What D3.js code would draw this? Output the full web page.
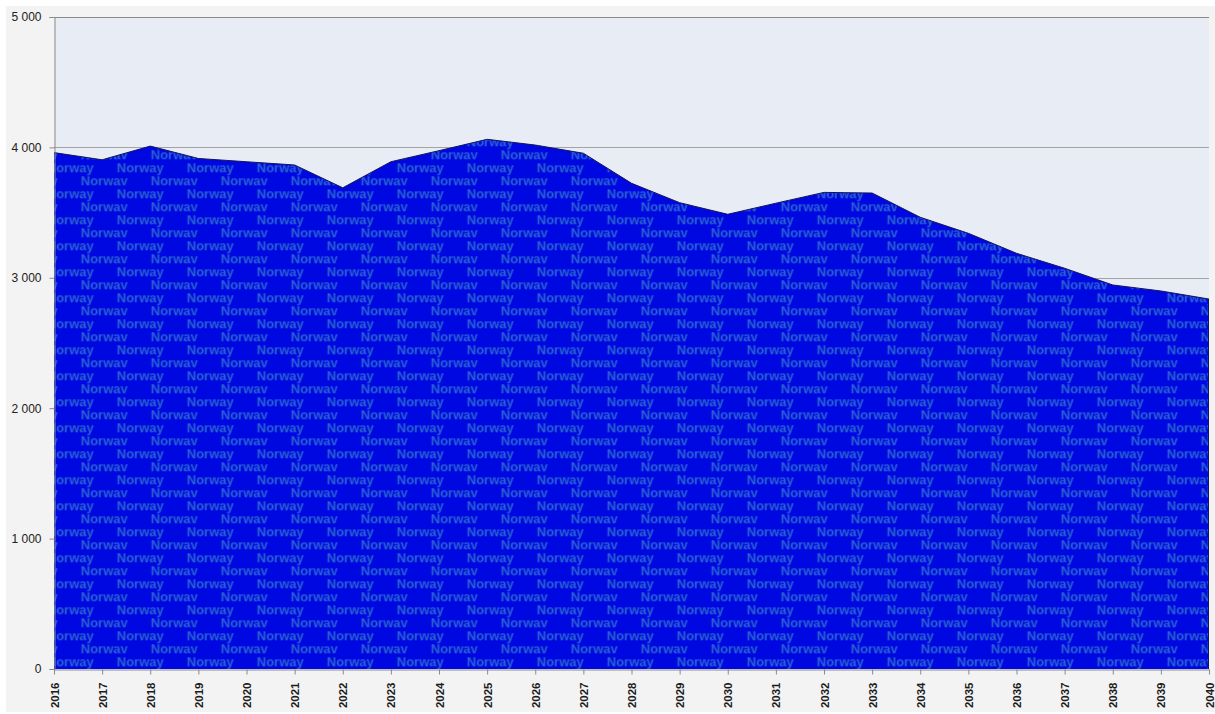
<!DOCTYPE html>
<html>
<head>
<meta charset="utf-8">
<script src="https://cdn.jsdelivr.net/npm/d3@7"></script>
<style>
  html, body { margin: 0; padding: 0; background: #ffffff; }
  svg { display: block; }
</style>
</head>
<body>
<svg id="chart" width="1215" height="714"></svg>
<script>
// Yearly series for Norway, 2016–2040
const years = [2016, 2017, 2018, 2019, 2020, 2021, 2022, 2023, 2024, 2025, 2026, 2027, 2028,
               2029, 2030, 2031, 2032, 2033, 2034, 2035, 2036, 2037, 2038, 2039, 2040];
const values = [3960, 3905, 4010, 3915, 3890, 3865, 3690, 3890, 3975, 4062, 4018, 3955, 3725,
                3576, 3487, 3572, 3655, 3650, 3464, 3341, 3188, 3073, 2945, 2899, 2837];
const seriesName = "Norway";
const yTicks = [0, 1000, 2000, 3000, 4000, 5000];
const yMax = 5000;

const data = years.map((y, i) => ({ year: y, value: values[i] }));

const svg = d3.select("#chart");
const plot = { left: 54, right: 1209, top: 17, bottom: 669 };

const x = d3.scaleLinear().domain([years[0], years[years.length - 1]]).range([plot.left, plot.right]);
const y = d3.scaleLinear().domain([0, yMax]).range([plot.bottom, plot.top]);

const fmt = d3.formatLocale({ decimal: ",", thousands: " ", grouping: [3], currency: ["", ""] }).format(",d");

// outer panel and plot background
svg.append("rect").attr("x", 6).attr("y", 6).attr("width", 1209).attr("height", 706).attr("fill", "#f3f3f3");
svg.append("rect")
  .attr("x", plot.left).attr("y", plot.top)
  .attr("width", plot.right - plot.left).attr("height", plot.bottom - plot.top)
  .attr("fill", "#e8ecf4");

// repeating series-name texture for the area fill
const defs = svg.append("defs");
const pat = defs.append("pattern")
  .attr("id", "namePattern")
  .attr("patternUnits", "userSpaceOnUse")
  .attr("x", 10.7).attr("y", 3.3)
  .attr("width", 70).attr("height", 26);
pat.append("rect").attr("width", 70).attr("height", 26).attr("fill", "#0008e2");
const patText = [
  { dx: 36, dy: 12.7 }, { dx: -34, dy: 12.7 },
  { dx: 0, dy: 26 }
];
pat.selectAll("text").data(patText).join("text")
  .attr("x", d => d.dx).attr("y", d => d.dy)
  .attr("font-family", "'Liberation Sans', Arial, sans-serif")
  .attr("font-weight", "bold")
  .attr("font-size", 13)
  .attr("fill", "#2a62d2")
  .text(seriesName);

// horizontal gridlines (behind the area)
svg.append("g").selectAll("line").data(yTicks.filter(t => t > 0)).join("line")
  .attr("x1", plot.left).attr("x2", plot.right)
  .attr("y1", d => Math.round(y(d)) + 0.5).attr("y2", d => Math.round(y(d)) + 0.5)
  .attr("stroke", d => d === yMax ? "#8a8a8a" : "#a3a3a3")
  .attr("stroke-width", 1);

// area
const area = d3.area().x(d => x(d.year)).y0(y(0)).y1(d => y(d.value));
svg.append("path").datum(data)
  .attr("d", area)
  .attr("fill", "url(#namePattern)");
const line = d3.line().x(d => x(d.year)).y(d => y(d.value));
svg.append("path").datum(data)
  .attr("d", line)
  .attr("fill", "none")
  .attr("stroke", "#14145a")
  .attr("stroke-width", 1);
svg.append("line")
  .attr("x1", x(years[years.length - 1]) - 0.5).attr("x2", x(years[years.length - 1]) - 0.5)
  .attr("y1", y(values[values.length - 1])).attr("y2", y(0))
  .attr("stroke", "#14145a").attr("stroke-width", 1);

// y axis
const yAxis = svg.append("g")
  .attr("transform", `translate(${plot.left + 0.5},0)`)
  .call(d3.axisLeft(y).tickValues(yTicks).tickFormat(fmt).tickSize(5).tickPadding(8));
yAxis.select(".domain").attr("stroke", "#8a8a8a");
yAxis.selectAll(".tick line").attr("stroke", "#8a8a8a");
yAxis.selectAll(".tick text")
  .attr("font-family", "'Liberation Sans', Arial, sans-serif")
  .attr("font-size", 12)
  .attr("fill", "#222");

// x axis
const xAxis = svg.append("g")
  .attr("transform", `translate(0,${plot.bottom + 0.5})`)
  .call(d3.axisBottom(x).tickValues(years).tickFormat(d3.format("d")).tickSize(5).tickSizeOuter(0));
xAxis.select(".domain").attr("stroke", "#8a8a8a");
xAxis.selectAll(".tick line").attr("stroke", "#8a8a8a");
xAxis.selectAll(".tick text")
  .attr("font-family", "'Liberation Sans', Arial, sans-serif")
  .attr("font-size", 11.5)
  .attr("font-weight", "bold")
  .attr("fill", "#1a1a1a")
  .attr("text-anchor", "end")
  .attr("transform", "translate(0,13) rotate(-90)")
  .attr("x", 0).attr("y", 0).attr("dy", "0.35em");
</script>
</body>
</html>
